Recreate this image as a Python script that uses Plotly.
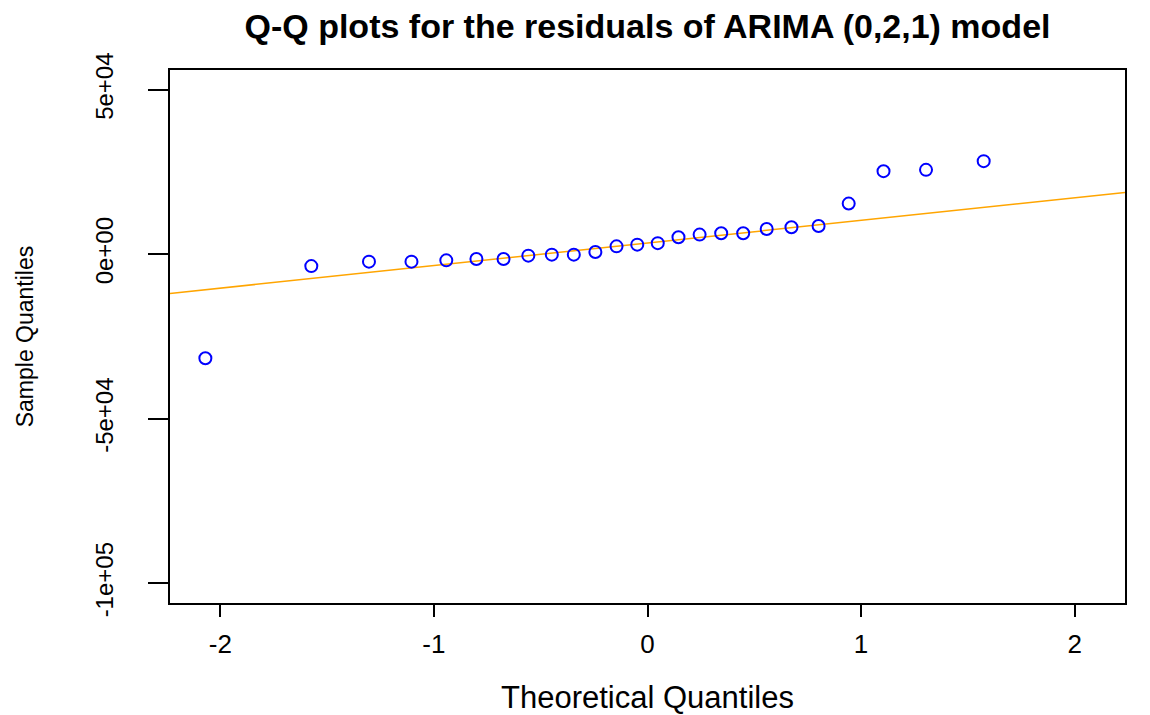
import math
import numpy as np
import plotly.graph_objects as go

# Theoretical normal quantiles of the 25 visible points (sample size 26; the
# largest residual lies above the plotted y-range and is clipped, as in R)
theoretical_quantiles = [
    -2.070, -1.574, -1.304, -1.105, -0.942, -0.801, -0.674, -0.558, -0.448,
    -0.345, -0.244, -0.145, -0.048, 0.048, 0.145, 0.244, 0.345, 0.448,
    0.558, 0.674, 0.801, 0.942, 1.105, 1.304, 1.574,
]
sample_quantiles = [
    -31600, -3600, -2250, -2250, -1860, -1460, -1460, -430, -120,
    -120, 670, 2400, 2920, 3380, 5150, 5970, 6360, 6360,
    7670, 8190, 8590, 15400, 25250, 25650, 28300,
]
sample_size = 26

x_tick_values = [-2, -1, 0, 1, 2]
x_tick_labels = ["-2", "-1", "0", "1", "2"]
y_tick_values = [50000, 0, -50000, -100000]
y_tick_labels = ["5e+04", "0e+00", "-5e+04", "-1e+05"]

title_text = "Q-Q plots for the residuals of ARIMA (0,2,1) model"
x_title = "Theoretical Quantiles"
y_title = "Sample Quantiles"

# R default axis limits: data range extended by 4% (ylim = c(-1e5, 5e4))
x_lim = [-2.070, 2.070]
y_lim = [-100000, 50000]
def r_expand(lim):
    d = (lim[1] - lim[0]) * 0.04
    return [lim[0] - d, lim[1] + d]
x_range = r_expand(x_lim)
y_range = r_expand(y_lim)

# qqline: through the 1st and 3rd quartiles (quantile type 7)
sv = sorted(sample_quantiles)
def type7(p):
    h = (sample_size - 1) * p
    lo = int(math.floor(h))
    return sv[lo] + (h - lo) * (sv[lo + 1] - sv[lo])
q1, q3 = type7(0.25), type7(0.75)
z = 0.6744897501960817
slope = (q3 - q1) / (2 * z)
intercept = q1 + slope * z
line_x = np.array(x_range)
line_y = intercept + slope * line_x

FONT = "Liberation Sans, Arial, sans-serif"
W, H = 1142, 707  # page has an 8px body margin

fig = go.Figure()
fig.add_trace(go.Scatter(
    x=line_x, y=line_y, mode="lines",
    line=dict(color="#FFA500", width=1.5),
    hoverinfo="skip", showlegend=False,
))
fig.add_trace(go.Scatter(
    x=theoretical_quantiles, y=sample_quantiles, mode="markers",
    marker=dict(symbol="circle-open", size=12, color="#0000FF",
                line=dict(width=2, color="#0000FF")),
    showlegend=False,
))

fig.update_layout(
    width=W, height=H,
    margin=dict(l=162, r=25, t=62, b=112, autoexpand=False),
    paper_bgcolor="white", plot_bgcolor="white",
    font=dict(family=FONT, color="black"),
    title=dict(text="<b>" + title_text + "</b>", xref="paper", x=0.5,
               xanchor="center", yref="container", y=1 - 18.5 / H,
               yanchor="middle", font=dict(size=34, family=FONT)),
)
fig.update_xaxes(
    range=x_range, showgrid=False, zeroline=False, automargin=False,
    showline=True, linecolor="black", linewidth=1.5, mirror=True,
    ticks="outside", ticklen=12, tickwidth=1.5, tickcolor="black",
    tickvals=x_tick_values, ticktext=x_tick_labels,
    tickfont=dict(size=26), ticklabelstandoff=5,
    title=dict(text=x_title, font=dict(size=31), standoff=31),
)
fig.update_yaxes(
    range=y_range, showgrid=False, zeroline=False, automargin=False,
    showline=True, linecolor="black", linewidth=1.5, mirror=True,
    ticks="outside", ticklen=20, tickwidth=1.5, tickcolor="black",
    tickvals=y_tick_values, ticktext=y_tick_labels, tickangle=-90,
    tickfont=dict(size=24), ticklabelstandoff=26,
    title=dict(text=y_title, font=dict(size=23), standoff=51),
)

fig.write_html("out.html")
